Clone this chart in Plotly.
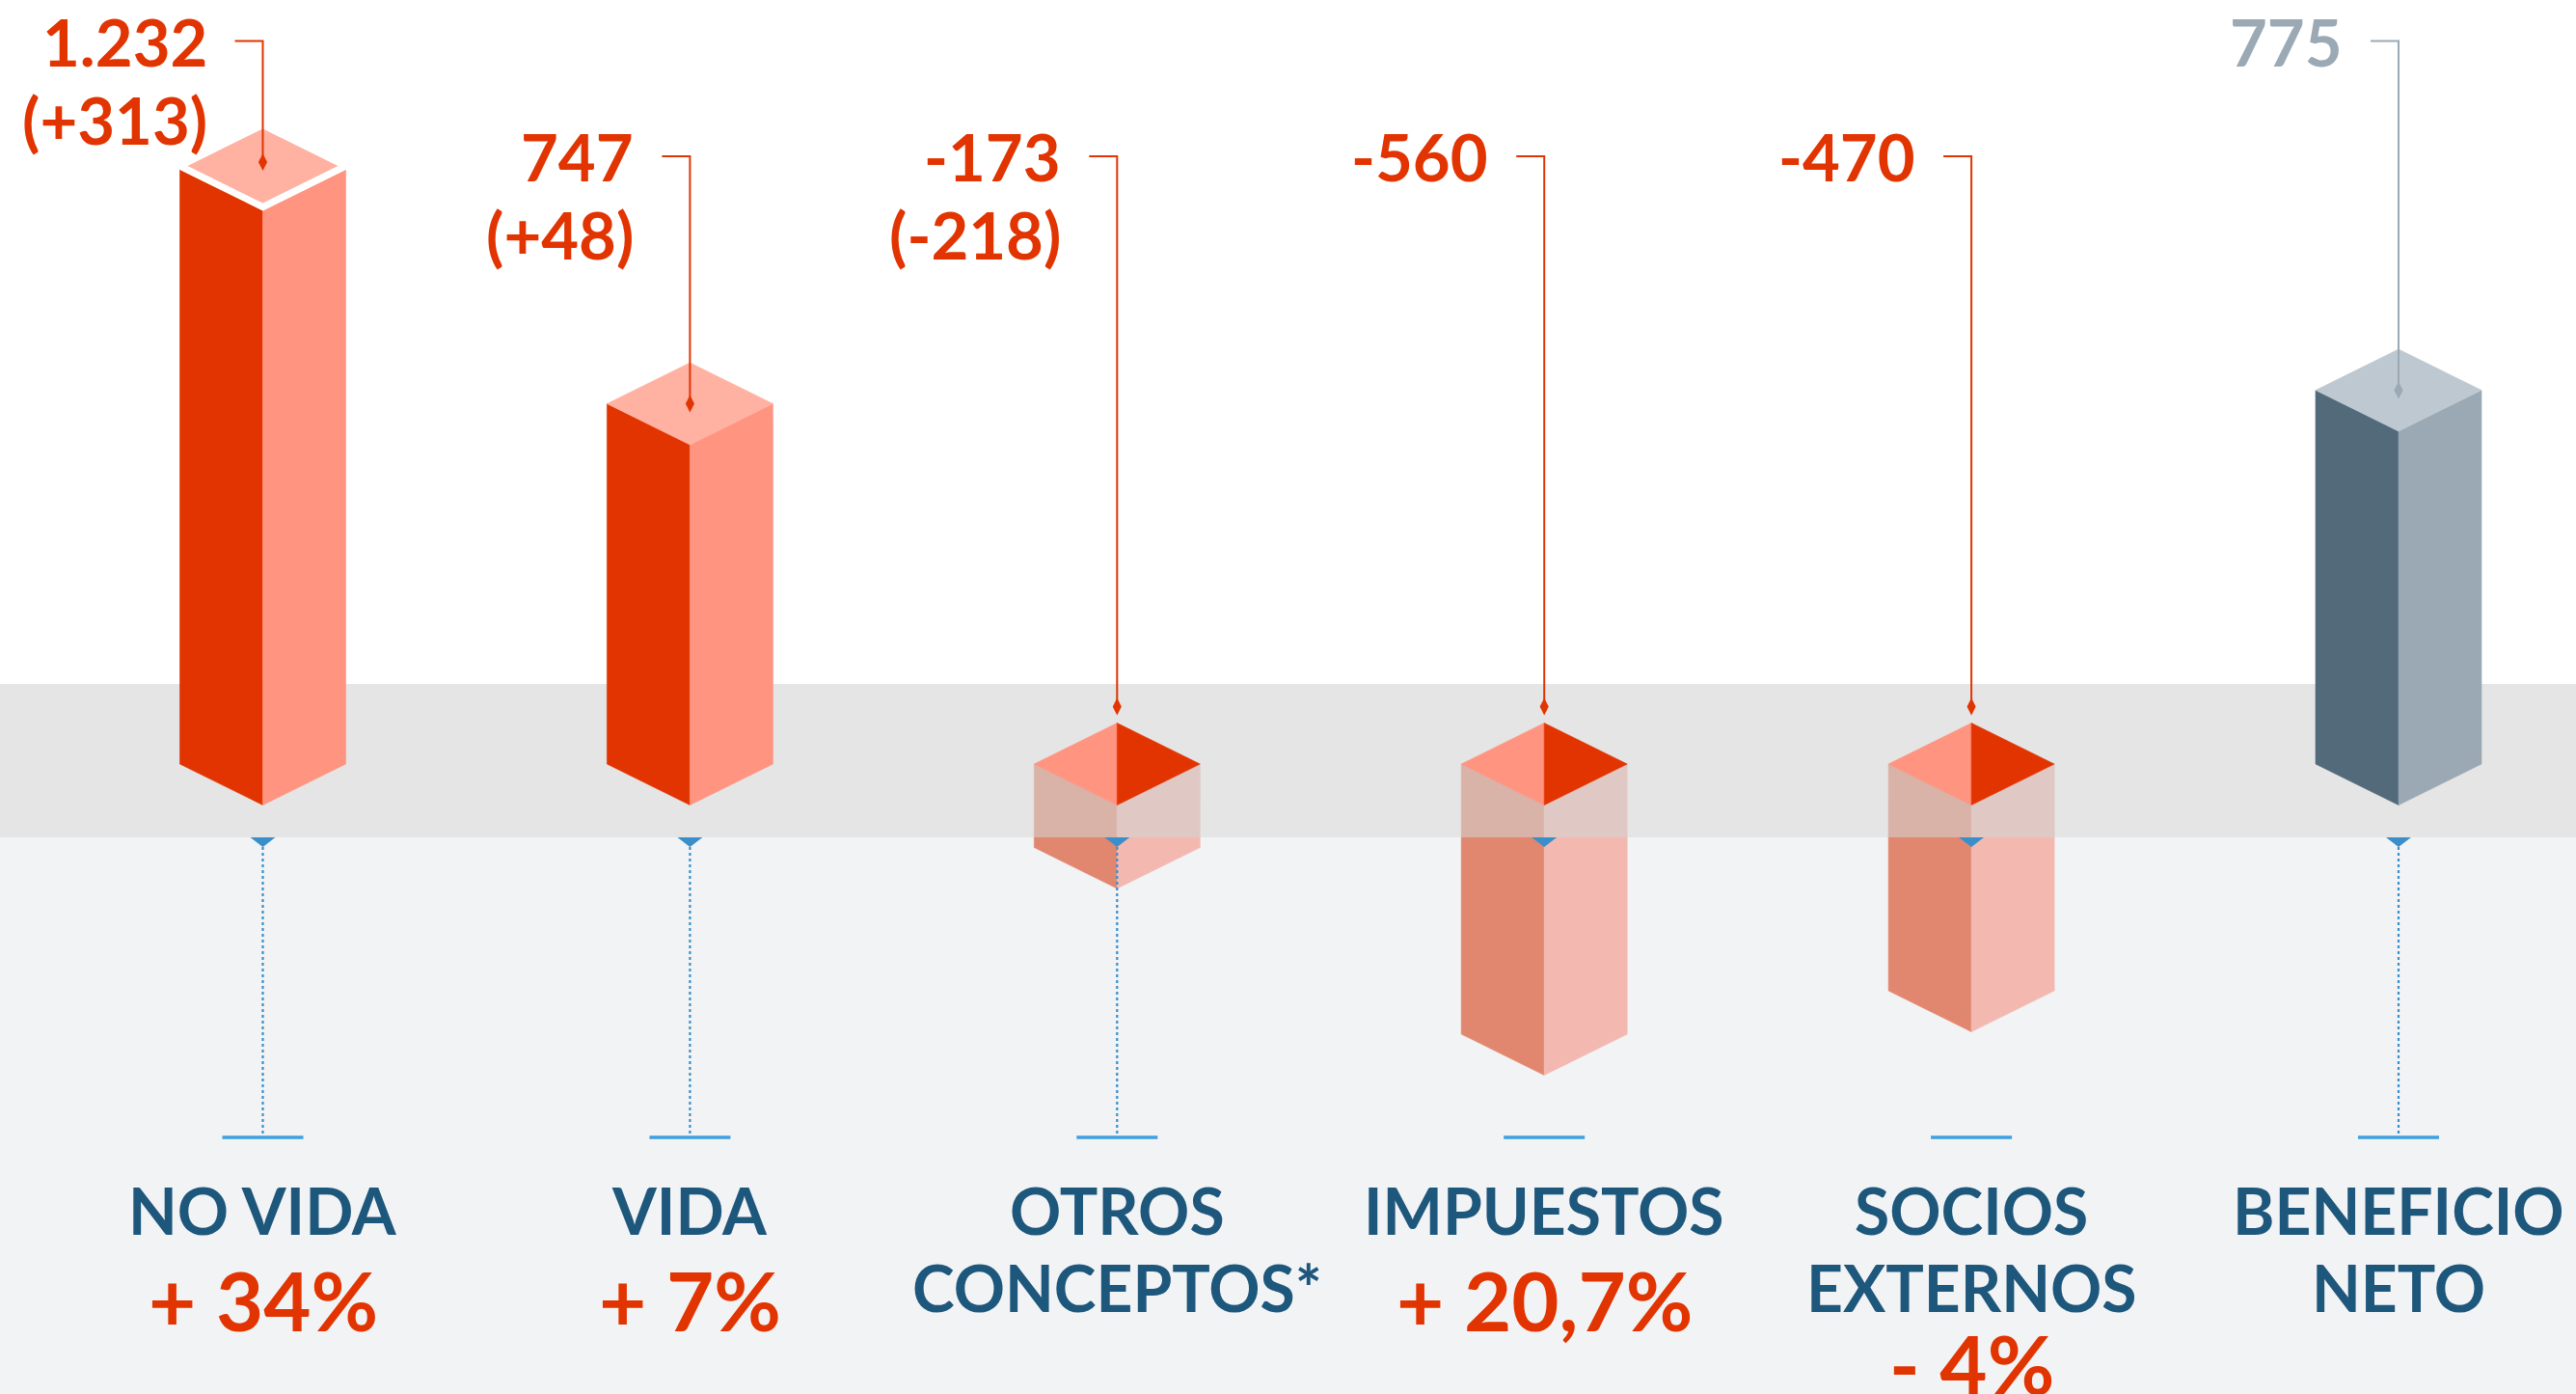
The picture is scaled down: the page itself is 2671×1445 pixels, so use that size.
import plotly.graph_objects as go

# data read from the infographic (millones de euros)
categories = [["NO VIDA"], ["VIDA"], ["OTROS", "CONCEPTOS*"], ["IMPUESTOS"],
              ["SOCIOS", "EXTERNOS"], ["BENEFICIO", "NETO"]]
values = [1232, 747, -173, -560, -470, 775]
value_labels = ["1.232", "747", "-173", "-560", "-470", "775"]
change_labels = ["(+313)", "(+48)", "(-218)", None, None, None]
pct_labels = ["+ 34%", "+ 7%", None, "+ 20,7%", "- 4%", None]

# styling
RED = "#E23400"
BLUE_TXT = "#1E577C"
GREY_TXT = "#9BA9B4"
STEM = "#3A8FCB"
TICK = "#3FA0E0"
FONT = "Lato"

W, H = 2671, 1445
X0, DX = 272.5, 442.9          # first bar centre / spacing in px
BASE = 792                     # baseline (px from top)
K = 0.5                        # px per unit
HALF = 86 / DX                 # bar half width (x units)
D = 42.5 / K                   # isometric depth (y units)


def yu(px):
    # px from top -> y units
    return (BASE - px) / K


def xu(px):
    return px / DX


fig = go.Figure()


def poly(xs, ys, color, lw=0.6, lc=None):
    fig.add_trace(go.Scatter(x=xs + [xs[0]], y=ys + [ys[0]], mode="lines",
                             fill="toself", fillcolor=color,
                             line=dict(width=lw, color=lc or color),
                             hoverinfo="skip", showlegend=False))


def line(xs, ys, color, width=2, dash=None):
    fig.add_trace(go.Scatter(x=xs, y=ys, mode="lines",
                             line=dict(color=color, width=width, dash=dash),
                             hoverinfo="skip", showlegend=False))


xlo, xhi = -X0 / DX, (W - X0) / DX
ylo, yhi = yu(H), yu(0)

# light panel below the band
fig.add_shape(type="rect", xref="paper", x0=0, x1=1, yref="y", y0=ylo, y1=yu(868),
              fillcolor="#F2F3F5", line_width=0, layer="below")

# bodies of the negative bars (under the translucent band)
for i, v in enumerate(values):
    if v < 0:
        poly([i - HALF, i, i, i - HALF], [0, -D, v - D, v], "#E2876F")
        poly([i, i + HALF, i + HALF, i], [-D, 0, v, v - D], "#F3B9B1")

# translucent grey band
poly([xlo, xhi, xhi, xlo], [yu(709), yu(709), yu(868), yu(868)],
     "rgba(210,210,210,0.58)", lw=0)

# stems, ticks and blue triangles
stem_shown = [True, True, True, False, False, True]
for i, v in enumerate(values):
    tri_w, tri_h = xu(13), 10 / K
    poly([i - tri_w, i + tri_w, i], [yu(868), yu(868), yu(868) - tri_h], STEM, lw=0)
    if stem_shown[i]:
        line([i, i], [yu(868) - tri_h, yu(1179)], STEM, width=2.2, dash="dot")
    line([i - xu(42), i + xu(42)], [yu(1179), yu(1179)], TICK, width=3.5)

# top faces of negatives and the positive bars
for i, v in enumerate(values):
    if v < 0:
        poly([i - HALF, i, i], [0, D, -D], "#FF9480")
        poly([i, i + HALF, i], [D, 0, -D], RED)
    else:
        last = i == len(values) - 1
        cl, cr, ct = ("#526A79", "#9BA9B4", "#BDC8D0") if last else (RED, "#FF9481", "#FFB1A2")
        poly([i - HALF, i, i, i - HALF], [0, -D, v - D, v], cl)
        poly([i, i + HALF, i + HALF, i], [-D, 0, v, v - D], cr)
        if i == 0:
            poly([i - HALF, i, i + HALF, i], [v + 8, v + D + 8, v + 8, v - D + 8], ct,
                 lw=7, lc="white")
        else:
            poly([i - HALF, i, i + HALF, i], [v, v + D, v, v - D], ct)

# leader lines with value labels
for i, v in enumerate(values):
    last = i == len(values) - 1
    col = GREY_TXT if last else RED
    row_y = yu(42.6) if i in (0, len(values) - 1) else yu(162)
    end_y = v + (16 if i == 0 else 0) if v > 0 else D + 17 / K
    line([i - xu(29), i, i], [row_y, row_y, end_y], col, width=2)
    fig.add_trace(go.Scatter(x=[i], y=[end_y], mode="markers",
                             marker=dict(symbol="diamond-tall", size=13, color=col),
                             hoverinfo="skip", showlegend=False))
    fig.add_annotation(x=i - xu(56), y=row_y, text=value_labels[i], showarrow=False,
                       xanchor="right", yanchor="middle",
                       font=dict(family=FONT, size=67, color=col, weight=700))
    if change_labels[i]:
        fig.add_annotation(x=i - xu(56), y=row_y - 81 / K, text=change_labels[i],
                           showarrow=False, xanchor="right", yanchor="middle",
                           font=dict(family=FONT, size=67, color=col, weight=700))

# category names and growth
for i, lines in enumerate(categories):
    for j, t in enumerate(lines):
        fig.add_annotation(x=i, y=yu(1254 + 80 * j), text=t, showarrow=False,
                           xanchor="center", yanchor="middle",
                           font=dict(family=FONT, size=66, color=BLUE_TXT, weight=700))
    if pct_labels[i]:
        fig.add_annotation(x=i, y=yu(1347 + 66 * (len(lines) - 1)), text=pct_labels[i],
                           showarrow=False, xanchor="center", yanchor="middle",
                           font=dict(family=FONT, size=85, color=RED, weight=700))

fig.update_layout(
    width=W, height=H, autosize=False,
    margin=dict(l=0, r=0, t=0, b=0, pad=0),
    paper_bgcolor="white", plot_bgcolor="white",
    showlegend=False,
    xaxis=dict(range=[xlo, xhi], visible=False, fixedrange=True),
    yaxis=dict(range=[ylo, yhi], visible=False, fixedrange=True),
)

# page body margin would shift the figure by 8px
fig.write_html("out.html", config={"displayModeBar": False},
               post_script="document.body.style.margin='0';")
